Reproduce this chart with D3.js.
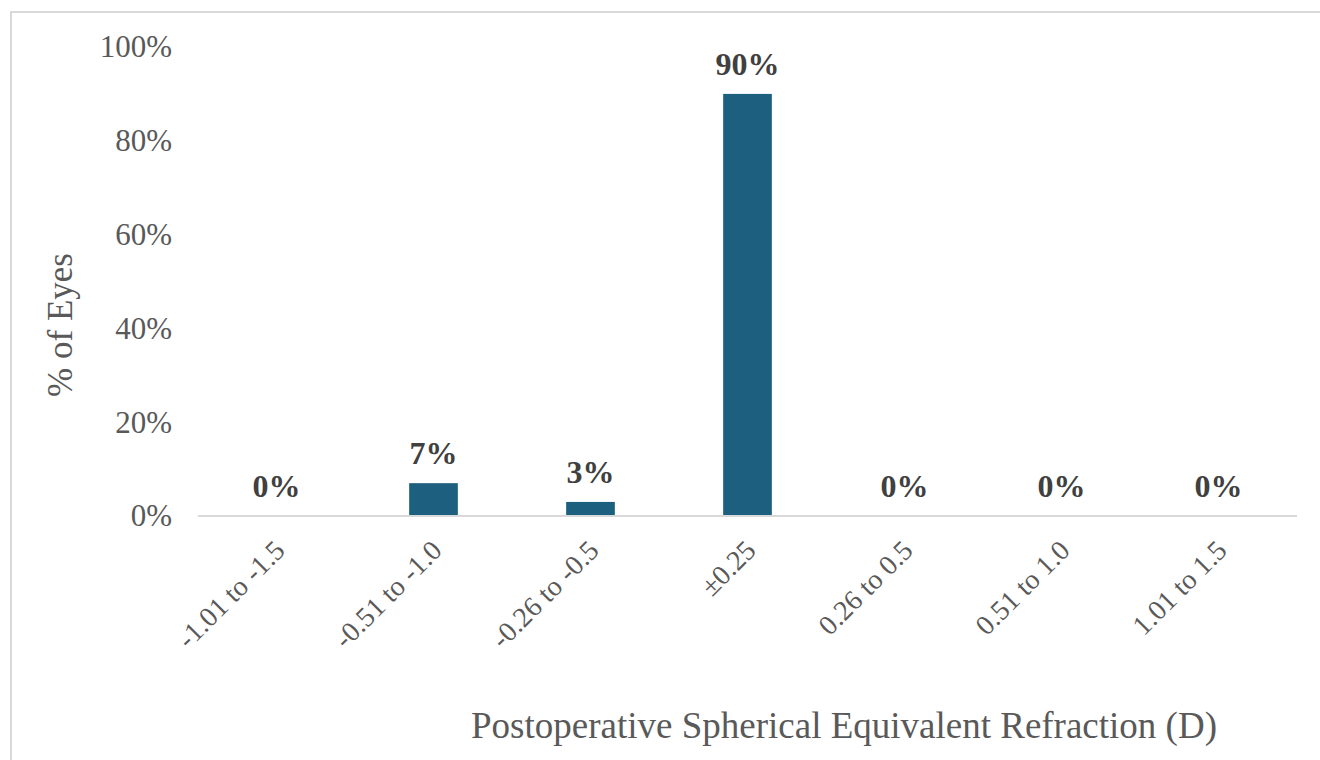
<!DOCTYPE html>
<html>
<head>
<meta charset="utf-8">
<script src="https://cdn.jsdelivr.net/npm/d3@7"></script>
<style>
body{margin:0;background:#fff}
svg{display:block}
</style>
</head>
<body>
<svg id="chart" width="1320" height="760"></svg>
<script>
// data
var categories=["-1.01 to -1.5","-0.51 to -1.0","-0.26 to -0.5","\u00b10.25","0.26 to 0.5","0.51 to 1.0","1.01 to 1.5"]
var values=[0,7,3,90,0,0,0]
var yTicks=[0,20,40,60,80,100]

var svg=d3.select("#chart")
var W=1320,H=760
var m={left:198,right:23,top:47,bottom:244}

// outer frame (only top/left show in the crop)
svg.append("rect").attr("x",11).attr("y",12).attr("width",W+20).attr("height",H+20)
  .attr("fill","#fff").attr("stroke","#d9d9d9").attr("stroke-width",2)

var x=d3.scaleBand().domain(categories).range([m.left,W-m.right]).paddingInner(0.69).paddingOuter(0.345)
var y=d3.scaleLinear().domain([0,100]).range([H-m.bottom,m.top])

var font="'Liberation Serif','Times New Roman',serif"

// y axis labels, no line
var ya=svg.append("g").attr("transform","translate("+m.left+",0)")
  .call(d3.axisLeft(y).tickValues(yTicks).tickFormat(d=>d+"%").tickSize(0).tickPadding(26))
ya.select(".domain").remove()
ya.selectAll("text").attr("font-family",font).attr("font-size",31).attr("fill","#595959")

// bars
svg.selectAll(".bar").data(values).enter().append("rect")
  .attr("class","bar")
  .attr("x",(d,i)=>x(categories[i]))
  .attr("y",d=>y(d))
  .attr("width",x.bandwidth())
  .attr("height",d=>y(0)-y(d))
  .attr("fill","#1d5f7e")

// baseline
svg.append("line").attr("x1",m.left).attr("x2",W-m.right).attr("y1",y(0)).attr("y2",y(0))
  .attr("stroke","#d9d9d9").attr("stroke-width",2)

// value labels
svg.selectAll(".lbl").data(values).enter().append("text")
  .attr("class","lbl")
  .attr("x",(d,i)=>x(categories[i])+x.bandwidth()/2)
  .attr("y",d=>y(d)-19)
  .attr("text-anchor","middle")
  .attr("font-family",font).attr("font-weight","bold").attr("font-size",32).attr("fill","#404040")
  .text(d=>d+"%")

// category labels, rotated
svg.selectAll(".cat").data(categories).enter().append("text")
  .attr("class","cat")
  .attr("transform",d=>"translate("+(x(d)+x.bandwidth()/2+10)+","+(y(0)+36)+") rotate(-45)")
  .attr("text-anchor","end")
  .attr("font-family",font).attr("font-size",28).attr("fill","#595959")
  .text(d=>d)

// axis titles
svg.append("text").attr("x",844).attr("y",738).attr("text-anchor","middle")
  .attr("font-family",font).attr("font-size",37).attr("fill","#595959")
  .text("Postoperative Spherical Equivalent Refraction (D)")
svg.append("text").attr("transform","translate(72,325) rotate(-90)").attr("text-anchor","middle")
  .attr("font-family",font).attr("font-size",35).attr("fill","#595959")
  .text("% of Eyes")
</script>
</body>
</html>
